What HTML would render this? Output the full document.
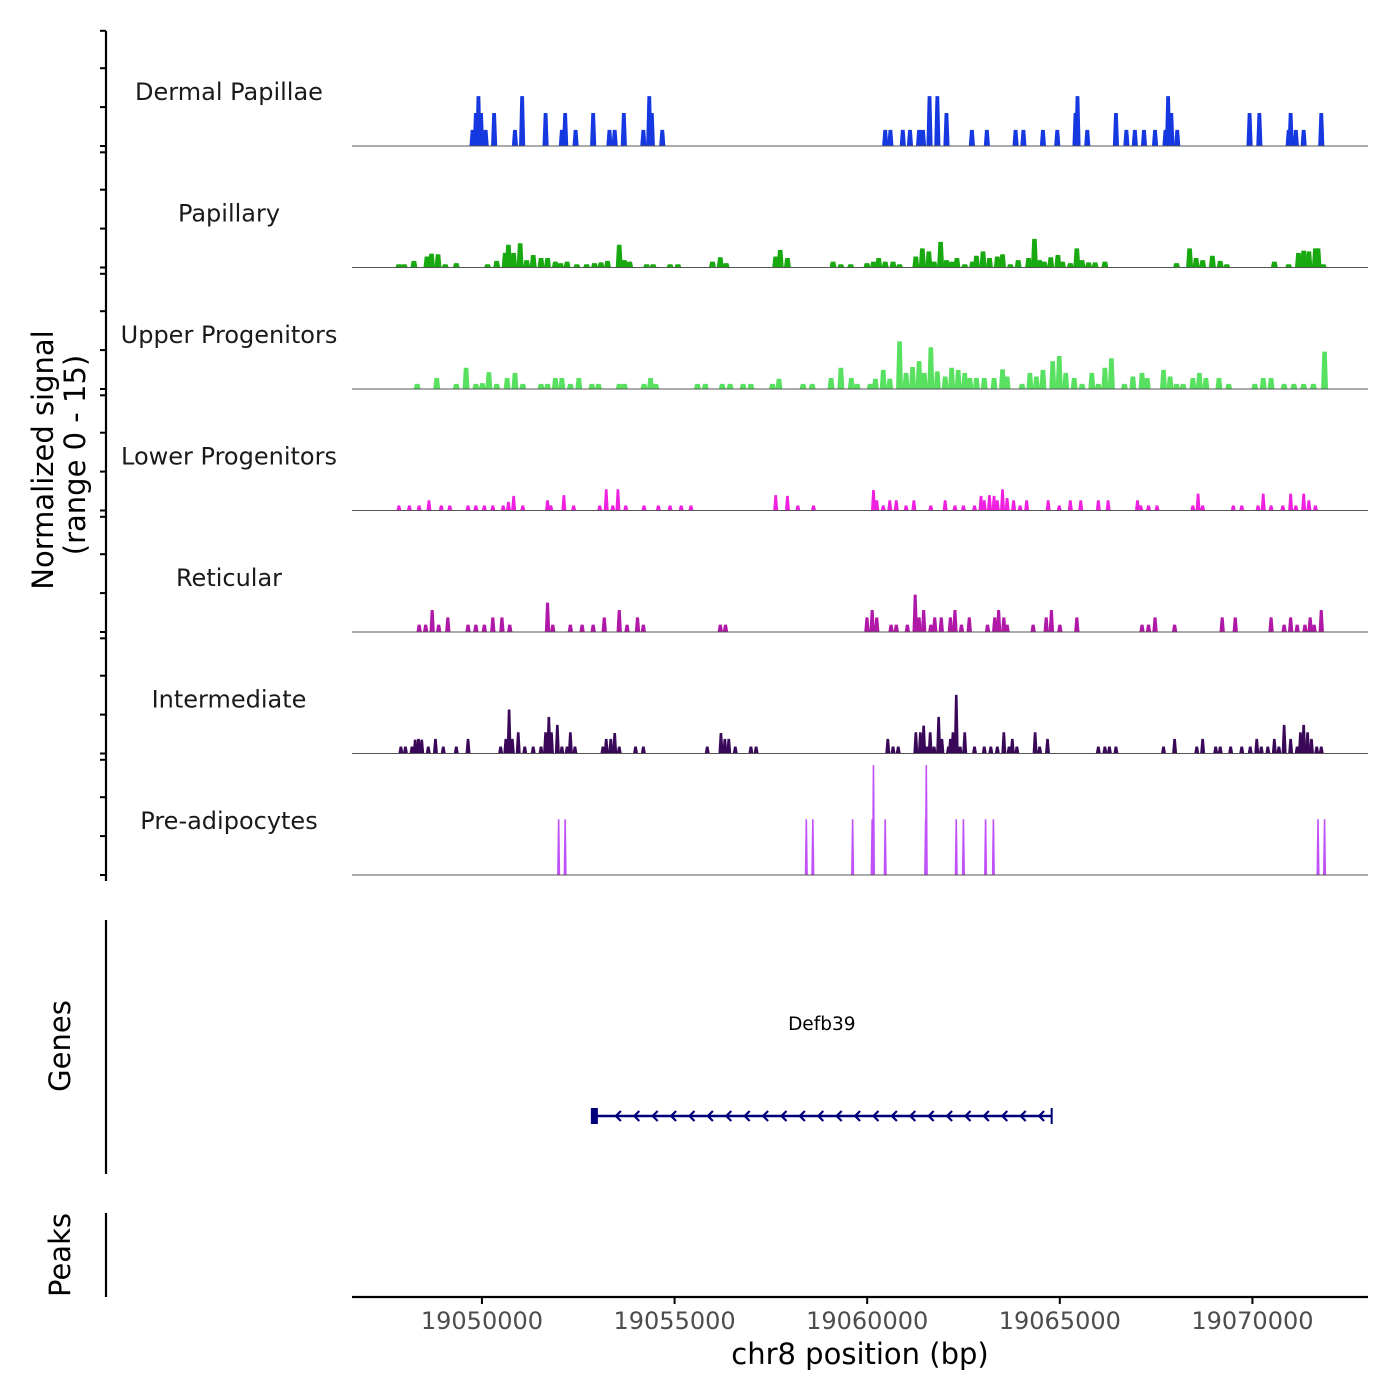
<!DOCTYPE html>
<html><head><meta charset="utf-8"><style>
body{margin:0;background:#fff}
svg{display:block;font-family:"DejaVu Sans","Liberation Sans",sans-serif}
</style></head><body>
<svg id="chart" width="1400" height="1400" viewBox="0 0 1400 1400" xmlns="http://www.w3.org/2000/svg">
<g id="tracks"></g>
<g id="yaxis"></g>
<text transform="translate(53,460) rotate(-90)" text-anchor="middle" font-size="29" fill="#000">Normalized signal</text>
<text transform="translate(85,455) rotate(-90)" text-anchor="middle" font-size="29" fill="#000">(range 0 - 15)</text>
<line x1="106" y1="920" x2="106" y2="1174" stroke="#000" stroke-width="2.2"/>
<text transform="translate(70,1046) rotate(-90)" text-anchor="middle" font-size="29">Genes</text>
<line x1="106" y1="1213" x2="106" y2="1297" stroke="#000" stroke-width="2.2"/>
<text transform="translate(70,1255) rotate(-90)" text-anchor="middle" font-size="29">Peaks</text>
<g id="gene"></g>
<g id="xaxis"></g>
<text x="860" y="1364" text-anchor="middle" font-size="29">chr8 position (bp)</text>
</svg>
<script>
const NS="http://www.w3.org/2000/svg";
const xMin=19046627, xMax=19073000;
const xTicks=[19050000,19055000,19060000,19065000,19070000];
const trackNames=["Dermal Papillae","Papillary","Upper Progenitors","Lower Progenitors","Reticular","Intermediate","Pre-adipocytes"];
const trackColors=["#1538e0","#18a810","#58e060","#f020e0","#b018a8","#3a0858","#c050f8"];
const trackBinWidths=[160,180,180,130,140,130,80];
const yTicks=[0,5,10,15];

const dermalPos=[19049757,19049842,19049909,19049977,19050096,19050316,19050857,19051043,19051652,19052075,19052160,19052431,19052887,19053310,19053446,19053683,19054190,19054343,19054410,19054681,19060468,19060603,19060924,19061111,19061347,19061449,19061618,19061821,19062058,19062718,19063107,19063852,19064055,19064562,19064934,19065408,19065459,19065713,19066457,19066728,19066948,19067185,19067472,19067743,19067811,19067895,19068048,19069926,19070180,19070941,19070992,19071127,19071330,19071787];
const dermalVal=[2.2,4.5,6.8,4.5,2.2,4.5,2.2,6.8,4.5,2.2,4.5,2.2,4.5,2.2,2.2,4.5,2.2,6.8,4.5,2.2,2.2,2.2,2.2,2.2,2.2,2.2,6.8,6.8,4.5,2.2,2.2,2.2,2.2,2.2,2.2,4.5,6.8,2.2,4.5,2.2,2.2,2.2,2.2,2.2,6.8,4.5,2.2,4.5,4.5,2.2,4.5,2.2,2.2,4.5];

const papPos=[19047845,19047981,19048234,19048573,19048691,19048860,19049047,19049334,19050146,19050383,19050603,19050688,19050823,19050992,19051162,19051331,19051534,19051703,19051906,19052041,19052211,19052464,19052718,19052921,19053090,19053260,19053564,19053700,19053835,19054275,19054444,19054884,19055087,19055984,19056187,19056339,19057625,19057743,19057930,19059114,19059317,19059571,19059994,19060163,19060298,19060468,19060671,19060840,19061263,19061432,19061601,19061737,19061906,19062058,19062193,19062329,19062532,19062735,19062836,19063006,19063175,19063378,19063513,19063716,19063919,19064190,19064342,19064477,19064596,19064765,19064951,19065070,19065273,19065442,19065577,19065747,19065916,19066170,19068031,19068369,19068538,19068708,19068961,19069164,19069334,19070569,19070941,19071195,19071330,19071466,19071635,19071703,19071838];
const papVal=[0.45,0.45,0.9,1.5,1.9,1.8,0.45,0.6,0.45,0.9,2.0,3.1,2.0,3.3,1.0,1.7,1.3,1.3,0.8,0.6,0.8,0.45,0.45,0.6,0.7,0.9,3.1,1.0,0.8,0.45,0.45,0.45,0.45,0.8,1.4,0.6,1.5,2.4,1.3,0.8,0.45,0.45,0.6,0.8,1.3,0.8,0.8,0.45,1.5,2.6,2.2,0.8,3.5,1.0,0.8,1.3,0.45,0.8,1.6,2.2,1.3,1.5,1.8,0.45,1.0,1.3,3.9,1.0,0.8,1.4,1.7,0.8,0.6,2.6,1.0,0.7,0.7,0.8,0.6,2.6,1.3,1.0,1.6,0.9,0.45,0.8,0.45,2.0,2.3,2.2,2.6,2.6,0.45];

const upPos=[19048319,19048827,19049334,19049588,19049842,19050011,19050180,19050383,19050654,19050857,19051060,19051534,19051703,19051906,19052075,19052295,19052515,19052854,19053023,19053564,19053700,19054207,19054376,19054512,19055595,19055798,19056238,19056441,19056779,19056982,19057540,19057710,19058336,19058573,19059063,19059317,19059588,19059740,19060078,19060214,19060417,19060586,19060840,19061009,19061178,19061347,19061483,19061652,19061821,19062024,19062193,19062363,19062532,19062667,19062836,19063039,19063293,19063513,19063632,19064021,19064224,19064393,19064562,19064816,19064985,19065154,19065374,19065577,19065831,19066000,19066170,19066339,19066677,19066897,19067134,19067269,19067692,19067862,19068031,19068200,19068454,19068623,19068792,19069131,19069384,19070061,19070281,19070484,19070823,19071076,19071330,19071584,19071872];
const upVal=[0.7,1.5,0.7,2.9,0.7,0.8,2.3,0.7,1.5,2.2,0.7,0.7,0.7,1.5,1.5,0.7,1.5,0.7,0.7,0.7,0.7,0.7,1.5,0.7,0.7,0.7,0.7,0.7,0.7,0.7,0.7,1.4,0.7,0.7,1.5,2.9,1.5,0.7,0.7,1.4,2.6,1.4,6.5,2.2,3.0,3.8,2.2,5.7,2.4,1.7,2.9,2.6,2.2,1.5,1.5,1.5,1.5,2.7,1.7,0.7,2.2,1.7,2.6,3.8,4.5,2.2,1.5,0.7,2.2,0.7,2.9,4.2,0.7,1.7,2.2,1.5,2.6,1.7,0.7,0.7,1.5,2.2,1.5,1.5,0.7,0.7,1.5,1.5,0.7,0.7,0.7,0.7,5.1];

const lowPos=[19047845,19048116,19048370,19048624,19048945,19049165,19049639,19049842,19050062,19050282,19050552,19050688,19050823,19051060,19051703,19051788,19052126,19052380,19053057,19053226,19053395,19053530,19053733,19054207,19054579,19054884,19055172,19055425,19057625,19057930,19058200,19058606,19060163,19060248,19060417,19060586,19060755,19061009,19061212,19061652,19062024,19062278,19062498,19062786,19062955,19063039,19063175,19063293,19063378,19063513,19063632,19063801,19063970,19064139,19064698,19064985,19065273,19065544,19066000,19066254,19067016,19067100,19067303,19067523,19068454,19068589,19068708,19069503,19069723,19070146,19070281,19070484,19070789,19070992,19071127,19071330,19071466,19071635];
const lowVal=[0.7,0.7,0.7,1.4,0.7,0.7,0.7,0.7,0.7,0.7,0.7,1.2,2.0,0.7,1.4,0.7,2.1,0.7,0.7,2.9,0.7,2.9,0.7,0.7,0.7,0.7,0.7,0.7,2.1,2.0,0.7,0.7,2.8,1.4,0.7,1.4,1.4,0.7,1.4,0.7,1.4,0.7,0.7,0.7,2.0,1.4,2.1,2.0,1.4,2.9,1.7,1.4,0.7,1.4,1.4,0.7,1.4,1.4,1.4,1.4,1.4,0.7,0.7,0.7,0.7,2.3,0.7,0.7,0.7,0.7,2.3,0.7,0.7,2.3,0.7,2.3,1.4,0.7];

const retPos=[19048370,19048539,19048708,19048877,19049114,19049639,19049842,19050062,19050282,19050519,19050722,19051703,19051838,19052295,19052600,19052887,19053175,19053564,19053767,19054038,19054190,19056187,19056322,19059994,19060129,19060248,19060620,19060755,19061043,19061246,19061347,19061466,19061652,19061753,19061923,19062160,19062278,19062447,19062650,19063124,19063310,19063412,19063547,19063632,19064308,19064647,19064782,19065002,19065442,19067134,19067303,19067472,19067980,19069215,19069554,19070484,19070823,19070992,19071161,19071363,19071499,19071601,19071787];
const retVal=[1.0,1.0,3.0,1.0,2.0,1.0,1.0,1.0,2.0,2.0,1.0,4.0,1.0,1.0,1.0,1.0,2.0,3.0,1.0,2.0,1.0,1.0,1.0,2.0,3.0,2.0,1.0,1.0,1.0,5.1,2.0,3.0,1.0,2.0,2.0,2.0,3.0,1.0,2.0,1.0,2.0,3.0,2.0,1.0,1.0,2.0,3.0,1.0,2.0,1.0,1.0,2.0,1.0,2.0,2.0,2.0,1.0,2.0,1.0,1.0,2.0,1.0,3.0];

const intPos=[19047896,19048014,19048184,19048268,19048353,19048437,19048607,19048793,19048996,19049334,19049639,19050485,19050620,19050705,19050789,19050942,19051111,19051331,19051534,19051652,19051737,19051805,19051957,19052075,19052211,19052295,19052414,19053141,19053226,19053344,19053446,19053564,19053987,19054190,19055848,19056204,19056305,19056407,19056576,19056982,19057117,19060535,19060671,19060806,19061263,19061381,19061466,19061550,19061635,19061737,19061855,19061940,19062109,19062160,19062227,19062312,19062413,19062532,19062786,19063039,19063209,19063378,19063547,19063682,19063767,19063885,19064359,19064477,19064681,19066000,19066170,19066288,19066457,19067692,19067980,19068555,19068708,19069046,19069164,19069435,19069723,19069943,19070112,19070230,19070400,19070569,19070687,19070823,19070992,19071161,19071246,19071330,19071432,19071533,19071669,19071787];
const intVal=[0.95,0.95,0.95,1.9,2.0,1.9,0.95,2.0,0.95,0.95,2.0,0.95,2.0,6.0,2.0,2.9,0.95,0.95,0.95,2.9,5.0,2.9,3.9,0.95,0.95,2.9,0.95,0.95,2.0,2.0,2.8,0.95,0.95,0.95,0.95,2.8,2.0,2.0,0.95,0.95,0.95,2.0,0.95,0.95,2.9,2.9,3.8,0.95,2.9,0.95,5.0,2.0,0.95,2.0,2.9,8.0,0.95,2.9,0.95,0.95,0.95,0.95,2.9,0.95,2.0,0.95,2.9,0.95,2.0,0.95,0.95,0.95,0.95,0.95,2.0,0.95,2.0,0.95,0.95,0.95,0.95,0.95,2.0,0.95,0.95,2.0,0.95,3.9,2.0,0.95,2.9,3.9,2.9,2.0,0.95,0.95];

const prePos=[19051991,19052160,19058420,19058589,19059622,19060129,19060163,19060468,19061517,19061534,19062312,19062498,19063073,19063276,19071703,19071872];
const preVal=[7.6,7.6,7.6,7.6,7.6,7.6,15,7.6,7.6,15,7.6,7.6,7.6,7.6,7.6,7.6];

const trackPos=[dermalPos,papPos,upPos,lowPos,retPos,intPos,prePos];
const trackVal=[dermalVal,papVal,upVal,lowVal,retVal,intVal,preVal];
const geneStart=19052854, geneEnd=19064789;

const X0=352, X1=1368, BASE0=146, TRACK_H=121.5, PX_PER_UNIT=110/15, TICK_SP=38.9;
function xs(v){return X0+(v-xMin)/(xMax-xMin)*(X1-X0);}
function base(i){return BASE0+i*TRACK_H;}
function ys(i,v){return base(i)-Math.min(v,15)*PX_PER_UNIT;}
function mk(tag,attrs,parent){const e=document.createElementNS(NS,tag);for(const k in attrs)e.setAttribute(k,attrs[k]);parent.appendChild(e);return e;}

const tracks=document.getElementById('tracks');
trackNames.forEach((name,i)=>{
  const g=mk('g',{},tracks);
  
  
  const lbl=mk('text',{x:229,y:base(i)-46,'text-anchor':'middle','font-size':24,fill:'#1a1a1a'},g);
  lbl.textContent=name;
  
  
  const w=trackBinWidths[i];
  trackPos[i].forEach((p,j)=>{
    const v=trackVal[i][j];
    const xa=xs(p-w/2), xb=xs(p+w/2);
    const yt=ys(i,v), yb=base(i);
    const inset=Math.min((xb-xa)*0.25,1.2);
    const poly=mk('polygon',{points:`${xa},${yb} ${xa+inset},${yt} ${xb-inset},${yt} ${xb},${yb}`,fill:trackColors[i]},g);
    
    
  });
  const bl=mk('line',{x1:X0,x2:X1,y1:base(i),y2:base(i),stroke:'#555',"stroke-width":1},g);
  
  
});

const yaxis=document.getElementById('yaxis');
const yl=mk('line',{x1:106,x2:106,y1:31,y2:881,stroke:'#000','stroke-width':2.2},yaxis);


trackNames.forEach((n,i)=>{
  yTicks.forEach(t=>{
    const y=base(i)-t/5*TICK_SP+(t===15?1.5:0);
    const tk=mk('line',{x1:100,x2:106,y1:y,y2:y,stroke:'#000','stroke-width':2},yaxis);
    
    
  });
});

const gene=document.getElementById('gene');
const gl=mk('text',{x:(xs(geneStart)+xs(geneEnd))/2,y:1030,'text-anchor':'middle','font-size':18.5,fill:'#000'},gene);
gl.textContent='Defb39';


const gx0=xs(geneStart), gx1=xs(geneEnd), gy=1116;
const gline=mk('line',{x1:gx0,x2:gx1,y1:gy,y2:gy,stroke:'#00007a','stroke-width':2.5},gene);


const gbox=mk('rect',{x:gx0-1,y:gy-8,width:7,height:16,fill:'#00007a'},gene);


const gend=mk('line',{x1:gx1,x2:gx1,y1:gy-8,y2:gy+8,stroke:'#00007a','stroke-width':2},gene);


for(let x=gx0+24;x<gx1-6;x+=18.4){
  const a=mk('polyline',{points:`${x+5},${gy-5} ${x},${gy} ${x+5},${gy+5}`,fill:'none',stroke:'#00007a','stroke-width':2.2},gene);
  
  
}

const xaxis=document.getElementById('xaxis');
const xl=mk('line',{x1:X0,x2:X1,y1:1297,y2:1297,stroke:'#000','stroke-width':2.2},xaxis);


xTicks.forEach(t=>{
  const x=xs(t);
  const tk=mk('line',{x1:x,x2:x,y1:1297,y2:1304,stroke:'#000','stroke-width':2},xaxis);
  
  
  const tl=mk('text',{x:x,y:1329,'text-anchor':'middle','font-size':24,fill:'#4d4d4d'},xaxis);
  tl.textContent=t;
  
  
});
</script>
</body></html>
